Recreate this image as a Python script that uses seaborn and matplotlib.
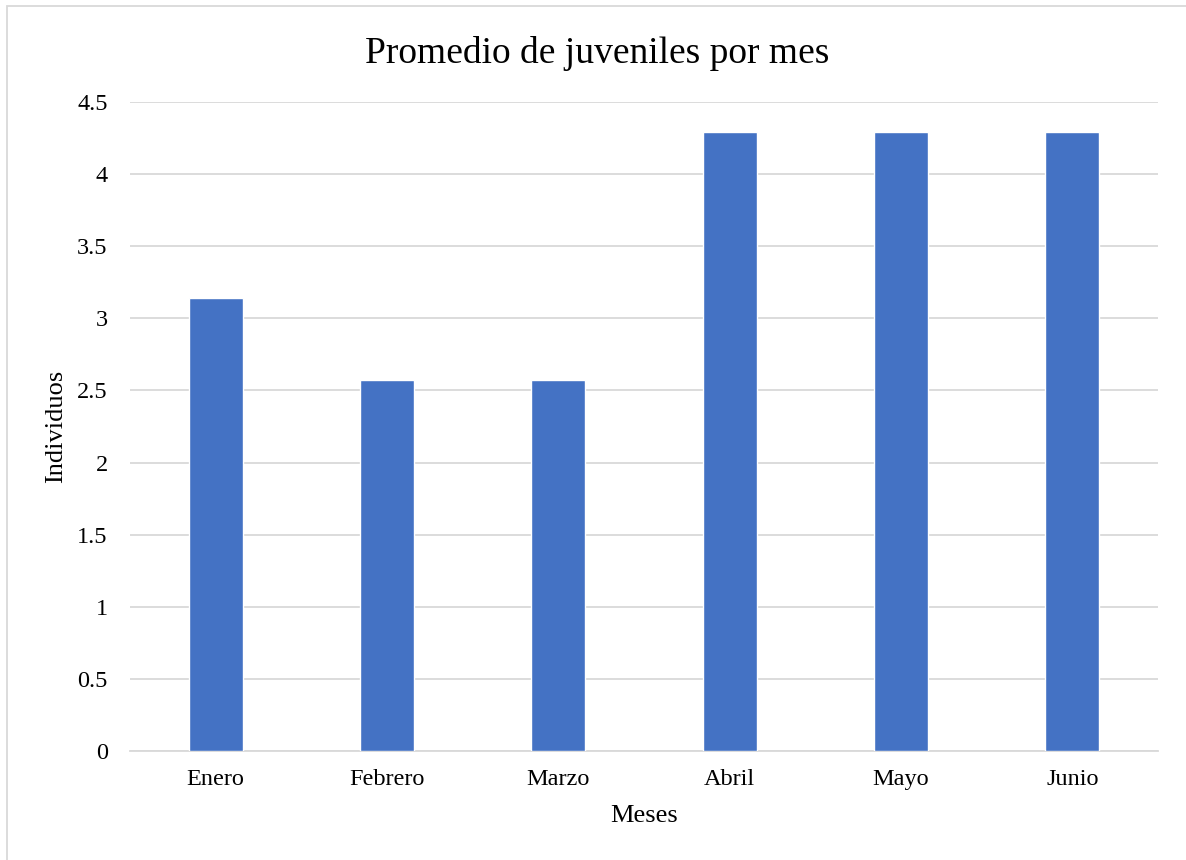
import matplotlib
matplotlib.use("Agg")
import matplotlib.pyplot as plt
from matplotlib.patches import Rectangle
import seaborn as sns
import pandas as pd

meses = ["Enero", "Febrero", "Marzo", "Abril", "Mayo", "Junio"]
promedio = [3.14, 2.57, 2.57, 4.29, 4.29, 4.29]
y_ticks = [0, 0.5, 1, 1.5, 2, 2.5, 3, 3.5, 4, 4.5]
y_labels = ["0", "0.5", "1", "1.5", "2", "2.5", "3", "3.5", "4", "4.5"]

sns.set_theme(style="white")
plt.rcParams["font.family"] = ["Liberation Serif", "DejaVu Serif"]

df = pd.DataFrame({"Meses": meses, "Individuos": promedio})

fig = plt.figure(figsize=(11.86, 8.6), dpi=100)
ax = fig.add_axes([0.1096, 0.1267, 0.8668, 0.7547])

sns.barplot(data=df, x="Meses", y="Individuos", color="#4472C4",
            width=0.315, saturation=1, ax=ax, zorder=3)

ax.set_ylim(0, 4.5)
ax.set_xlim(-0.5, len(meses) - 0.5)
ax.set_yticks(y_ticks)
ax.set_yticklabels(y_labels)
ax.yaxis.grid(True, color="#D9D9D9", linewidth=1.3, zorder=0)
ax.set_axisbelow(True)
for side in ["top", "right", "left"]:
    ax.spines[side].set_visible(False)
ax.spines["bottom"].set_color("#D9D9D9")
ax.spines["bottom"].set_linewidth(1.3)
ax.tick_params(axis="both", length=0, labelsize=17.5, colors="black")
ax.tick_params(axis="y", pad=16)
ax.tick_params(axis="x", pad=13)

ax.set_xlabel("Meses", fontsize=19, color="black")
ax.set_ylabel("Individuos", fontsize=19, color="black")
ax.xaxis.set_label_coords(0.5, -0.083)
ax.yaxis.set_label_coords(-0.061, 0.5)
fig.text(0.5034, 0.938, "Promedio de juveniles por mes", ha="center", va="center",
         fontsize=27, color="black")

# chart frame
fig.patches.append(Rectangle((7 / 1186, -0.01), 1.02, 0.01 + (860 - 6) / 860,
                             transform=fig.transFigure, fill=False,
                             edgecolor="#D9D9D9", linewidth=1.3))

fig.savefig("out.png", dpi=100)
